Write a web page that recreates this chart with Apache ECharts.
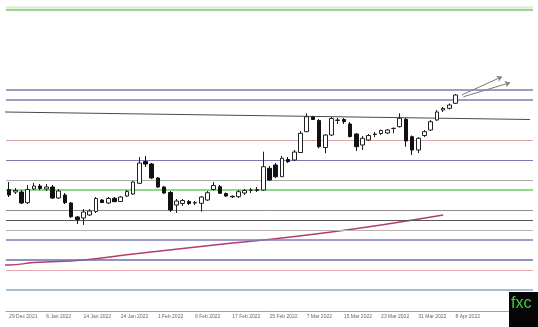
<!DOCTYPE html>
<html><head><meta charset="utf-8">
<script src="https://cdn.jsdelivr.net/npm/echarts@6/dist/echarts.min.js"></script>
<style>html,body{margin:0;padding:0;background:#fff}#c{width:538px;height:327px}</style>
</head><body><div id="c"></div>
<script>
// Tick labels shown every 6 trading days
const tickLabels = ["29 Dec 2021","6 Jan 2022","14 Jan 2022","24 Jan 2022","1 Feb 2022","9 Feb 2022","17 Feb 2022","25 Feb 2022","7 Mar 2022","15 Mar 2022","23 Mar 2022","31 Mar 2022","8 Apr 2022"];
// OHLC as [open, close, low, high]
const candles = [
[1.1105,1.1050,1.1030,1.1180],[1.1080,1.1095,1.1060,1.1120],[1.1080,1.0970,1.0960,1.1100],[1.0973,1.1105,1.0960,1.1150],
[1.1110,1.1140,1.1100,1.1170],[1.1140,1.1115,1.1100,1.1160],[1.1110,1.1130,1.1090,1.1160],[1.1130,1.1020,1.1010,1.1150],
[1.1020,1.1090,1.1010,1.1110],[1.1050,1.0973,1.0960,1.1070],[1.0970,1.0833,1.0820,1.0980],[1.0830,1.0805,1.0760,1.0840],
[1.0820,1.0880,1.0750,1.0910],[1.0850,1.0890,1.0840,1.0910],[1.0885,1.1015,1.0870,1.1030],[1.1000,1.0975,1.0970,1.1010],
[1.0970,1.1015,1.0960,1.1030],[1.1017,1.0983,1.0980,1.1030],[1.0985,1.1030,1.0980,1.1040],[1.1040,1.1085,1.1030,1.1100],
[1.1060,1.1180,1.1050,1.1190],[1.1167,1.1370,1.1160,1.1430],[1.1385,1.1360,1.1330,1.1440],[1.1360,1.1220,1.1210,1.1370],
[1.1220,1.1130,1.1120,1.1230],[1.1130,1.1070,1.1060,1.1140],[1.1075,1.0900,1.0880,1.1090],[1.0950,1.0990,1.0870,1.1010],
[1.0965,1.0995,1.0940,1.1010],[1.0985,1.0965,1.0950,1.1000],[1.0970,1.0975,1.0950,1.0990],[1.0967,1.1030,1.0883,1.1040],
[1.1000,1.1073,1.0990,1.1090],[1.1105,1.1145,1.1095,1.1180],[1.1133,1.1067,1.1060,1.1150],[1.1065,1.1040,1.1030,1.1075],
[1.1037,1.1032,1.1020,1.1045],[1.1033,1.1083,1.1020,1.1100],[1.1070,1.1095,1.1050,1.1110],[1.1095,1.1100,1.1070,1.1120],
[1.1095,1.1105,1.1080,1.1130],[1.1100,1.1333,1.1090,1.1483],[1.1317,1.1200,1.1190,1.1340],[1.1350,1.1233,1.1220,1.1370],
[1.1233,1.1417,1.1230,1.1440],[1.1405,1.1383,1.1370,1.1430],[1.1400,1.1480,1.1390,1.1500],[1.1475,1.1667,1.1470,1.1690],
[1.1683,1.1833,1.1680,1.1867],[1.1830,1.1805,1.1800,1.1840],[1.1795,1.1533,1.1517,1.1810],[1.1525,1.1650,1.1467,1.1660],
[1.1650,1.1815,1.1640,1.1830],[1.1795,1.1800,1.1760,1.1820],[1.1805,1.1783,1.1760,1.1820],[1.1760,1.1635,1.1625,1.1780],
[1.1660,1.1533,1.1490,1.1670],[1.1550,1.1617,1.1500,1.1640],[1.1600,1.1645,1.1590,1.1660],[1.1655,1.1660,1.1630,1.1680],
[1.1665,1.1695,1.1650,1.1705],[1.1670,1.1700,1.1660,1.1710],[1.1715,1.1717,1.1667,1.1725],[1.1733,1.1817,1.1725,1.1867],
[1.1807,1.1590,1.1533,1.1820],[1.1633,1.1500,1.1450,1.1645],[1.1500,1.1617,1.1470,1.1630],[1.1645,1.1683,1.1630,1.1700],
[1.1700,1.1783,1.1690,1.1800],[1.1800,1.1880,1.1790,1.1900],[1.1900,1.1915,1.1880,1.1930],[1.1917,1.1950,1.1905,1.1965],
[1.1967,1.2050,1.1960,1.2060]
];
// Moving average readings [bar index, price]
const maLine = [[-0.66,1.0350],[0,1.0350],[4,1.0375],[12,1.0400],[20,1.0460],[28,1.0515],[36,1.0570],[44,1.0620],[52,1.0680],[60,1.0750],[70,1.0850]];
// Horizontal support/resistance levels
const levels = [1.2940,1.2100,1.2020,1.1630,1.1430,1.1240,1.1080,1.0950,1.0850,1.0680,1.0610,1.0370,1.0280,1.0130];
// Trend line and projection arrows [bar index, price]
const trendLine = [[-0.66,1.1880],[84,1.1805]];
const arrows = [[[73,1.2050],[79.5,1.2233]],[[73.3,1.2033],[80.8,1.2173]]];

const totalSlots = 85;
const yMin = 0.989, yMax = 1.300;

const levelStyles = [
 {color:'#9fd393',width:2},{color:'#7c7cae',width:1.5},{color:'#7c7cae',width:1.5},{color:'#e2a4a4',width:1.2},
 {color:'#7a7ab0',width:1.2},{color:'#a8a8a8',width:1},{color:'#8fd88c',width:2},{color:'#8c8c8c',width:1},
 {color:'#555555',width:1.2},{color:'#bdb2a8',width:1.2},{color:'#7e7eb4',width:1.5},{color:'#6e6ea8',width:1.5},
 {color:'#e6a8b0',width:1},{color:'#a9bcd6',width:2}
];

const cats = [];
for (let i = 0; i < totalSlots; i++) cats.push(String(i));

const chart = echarts.init(document.getElementById('c'), null, {renderer:'canvas'});
chart.setOption({
  animation:false,
  backgroundColor:'#ffffff',
  grid:{left:6,right:5,top:0,height:311},
  xAxis:[{
    type:'category', data:cats, boundaryGap:true,
    axisLine:{show:true,lineStyle:{color:'#a0a0a0',width:1}},
    axisTick:{show:false}, splitLine:{show:false},
    axisLabel:{
      interval:0, align:'left', margin:3, fontSize:5, color:'#666', fontFamily:'Liberation Sans',
      formatter:(v,idx)=> (idx%6===0 && idx/6 < tickLabels.length) ? tickLabels[idx/6] : ''
    }
  },{
    type:'value', min:-0.5, max:totalSlots-0.5, show:false
  }],
  yAxis:{type:'value', min:yMin, max:yMax, show:false, splitLine:{show:false}},
  series:[
    {
      type:'candlestick', data:candles, barWidth:4,
      itemStyle:{color:'#ffffff',color0:'#111111',borderColor:'#222222',borderColor0:'#111111',borderWidth:1},
      markLine:{
        silent:true, symbol:['none','none'], label:{show:false},
        data: levels.map((v,k)=>({yAxis:v, lineStyle:{color:levelStyles[k].color,width:levelStyles[k].width,type:'solid'}}))
      },
      markArea:{
        silent:true,
        data:[[{yAxis:1.2935, itemStyle:{color:{type:'linear',x:0,y:0,x2:0,y2:1,colorStops:[{offset:0,color:'rgba(170,215,160,0.6)'},{offset:1,color:'rgba(255,255,255,0)'}]}}},{yAxis:1.2860}]]
      },
      z:5
    },
    {
      type:'line', xAxisIndex:1, data:maLine, smooth:true, symbol:'none', connectNulls:true,
      lineStyle:{color:'#b23d6c',width:1.4}, z:3
    },
    {
      type:'line', xAxisIndex:1, data:trendLine, symbol:'none',
      lineStyle:{color:'#4a4a4a',width:1}, z:3
    },
    {
      type:'lines', coordinateSystem:'cartesian2d', xAxisIndex:1, yAxisIndex:0,
      symbol:['none','arrow'], symbolSize:5,
      lineStyle:{color:'#7a7a7a',width:1,opacity:1},
      data: arrows.map(a=>({coords:a})), z:4
    }
  ],
  graphic:[
    {type:'rect', left:509, top:292, shape:{width:29,height:35}, style:{fill:'#050505'}, z:100},
    {type:'text', left:511, top:296, style:{text:'fxc', fill:'#3fcf3f', fontSize:16, fontFamily:'Liberation Sans'}, z:101}
  ]
});
</script>
</body></html>
